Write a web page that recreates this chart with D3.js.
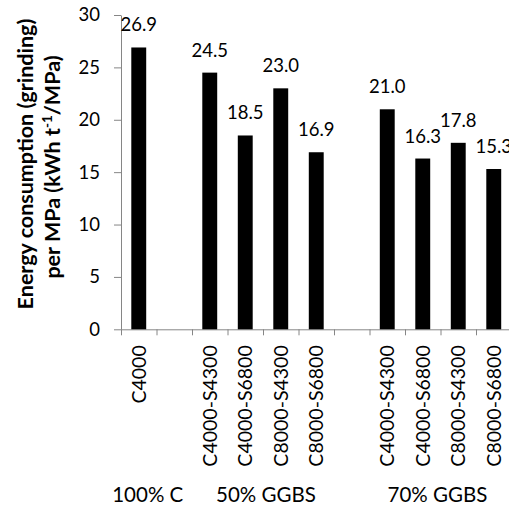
<!DOCTYPE html>
<html>
<head>
<meta charset="utf-8">
<script src="https://cdn.jsdelivr.net/npm/d3@7"></script>
<style>
  html, body { margin: 0; padding: 0; background: #fff; }
  svg { display: block; font-family: Lato, "Open Sans", sans-serif; }
</style>
</head>
<body>
<svg id="chart" width="509" height="506"></svg>
<script>
// ---- data ----
const categories = ["C4000", "", "C4000-S4300", "C4000-S6800", "C8000-S4300", "C8000-S6800", "", "C4000-S4300", "C4000-S6800", "C8000-S4300", "C8000-S6800"];
const values = [26.9, null, 24.5, 18.5, 23.0, 16.9, null, 21.0, 16.3, 17.8, 15.3];
const yTicks = [0, 5, 10, 15, 20, 25, 30];
const groupLabels = ["100% C", "50% GGBS", "70% GGBS"];
const groupRanges = [[0, 0], [2, 5], [7, 10]];
const yTitle1 = "Energy consumption (grinding)";
const yTitle2a = "per MPa (kWh t";
const yTitle2sup = "-1";
const yTitle2b = "/MPa)";

// ---- layout ----
const svg = d3.select("#chart");
const x0 = 121, x1 = 511.5, yTop = 15, yBot = 329.3;
const idx = d3.range(categories.length);
const edge = d3.scaleLinear().domain([0, categories.length]).range([x0, x1]);
const x = d3.scaleBand().domain(idx).range([x0, x1]).paddingInner(0.58).paddingOuter(0.29);
const y = d3.scaleLinear().domain([0, 30]).range([yBot, yTop]);
const axisColor = "#868686";
const numSize = 18.5, catSize = 19.5, grpSize = 20.5, titleSize = 21.5;

// y axis
const yAxis = svg.append("g").attr("transform", `translate(${x0},0)`)
  .call(d3.axisLeft(y).tickValues(yTicks).tickSize(7).tickSizeOuter(0).tickPadding(14).tickFormat(d3.format("d")));
yAxis.select(".domain").attr("stroke", axisColor).attr("stroke-width", 1);
yAxis.selectAll(".tick line").attr("stroke", axisColor);
yAxis.selectAll(".tick text").attr("font-size", numSize).attr("font-family", "Lato").attr("fill", "#000");

// x axis
const xAxis = svg.append("g").attr("transform", `translate(0,${yBot})`)
  .call(d3.axisBottom(edge).tickValues(d3.range(categories.length + 1)).tickSize(6).tickSizeOuter(0).tickFormat(""));
xAxis.select(".domain").attr("stroke", axisColor);
xAxis.selectAll(".tick line").attr("stroke", axisColor);

// bars
const data = idx.filter(i => values[i] != null);
svg.append("g").selectAll("rect").data(data).join("rect")
  .attr("x", i => x(i))
  .attr("width", x.bandwidth())
  .attr("y", i => y(values[i]))
  .attr("height", i => y(0) - y(values[i]))
  .attr("fill", "#000");

// value labels
svg.append("g").selectAll("text").data(data).join("text")
  .attr("x", i => x(i) + x.bandwidth() / 2)
  .attr("y", i => y(values[i]) - 16)
  .attr("text-anchor", "middle")
  .attr("font-size", numSize)
  .attr("fill", "#000")
  .text(i => values[i].toFixed(1));

// category labels
svg.append("g").selectAll("text").data(idx.filter(i => categories[i] !== "")).join("text")
  .attr("transform", i => `translate(${edge(i + 0.5)},${yBot + 16}) rotate(-90)`)
  .attr("text-anchor", "end")
  .attr("dy", "0.35em")
  .attr("font-size", catSize)
  .attr("fill", "#000")
  .text(i => categories[i]);

// group labels
const groupNudge = [9, 3, -3];
svg.append("g").selectAll("text").data(groupLabels).join("text")
  .attr("x", (d, k) => (edge(groupRanges[k][0] + 0.5) + edge(groupRanges[k][1] + 0.5)) / 2 + groupNudge[k])
  .attr("y", 502)
  .attr("text-anchor", "middle")
  .attr("font-size", grpSize)
  .attr("fill", "#000")
  .text(d => d);

// y title
const yc = 164;
svg.append("text")
  .attr("transform", `translate(33,${yc}) rotate(-90)`)
  .attr("text-anchor", "middle")
  .attr("font-weight", "bold").attr("font-size", titleSize)
  .text(yTitle1);
const t2 = svg.append("text")
  .attr("transform", `translate(60,${yc + 3}) rotate(-90)`)
  .attr("text-anchor", "middle")
  .attr("font-weight", "bold").attr("font-size", titleSize);
t2.append("tspan").text(yTitle2a);
t2.append("tspan").attr("font-size", 13.5).attr("dy", -8).text(yTitle2sup);
t2.append("tspan").attr("dy", 8).text(yTitle2b);
</script>
</body>
</html>
